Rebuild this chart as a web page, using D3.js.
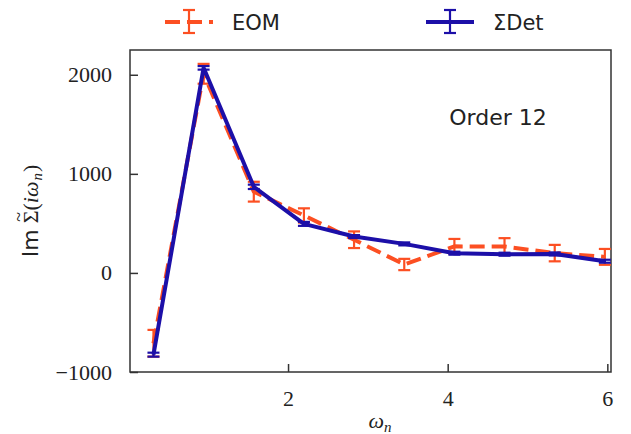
<!DOCTYPE html>
<html>
<head>
<meta charset="utf-8">
<script src="https://cdn.jsdelivr.net/npm/d3@7"></script>
<style>
  html, body { margin: 0; padding: 0; background: #fff; }
  svg { display: block; }
</style>
</head>
<body>
<svg id="chart" width="631" height="434"></svg>
<script>
// ---- data ----
const omega   = [0.314, 0.942, 1.571, 2.199, 2.827, 3.456, 4.084, 4.712, 5.341, 5.969];
const eom     = [-710, 2010, 820, 580, 335, 85, 268, 266, 200, 162];
const eomErr  = [135, 100, 100, 72, 84, 57, 75, 85, 83, 80];
const det     = [-825, 2070, 869, 495, 367, 293, 199, 189, 192, 118];
const detErr  = [20, 18, 22, 20, 15, 15, 15, 15, 15, 15];
const xTicks  = [2, 4, 6];
const yTicks  = [-1000, 0, 1000, 2000];
const seriesNames = ["EOM", "\u03A3Det"];
const annotation = "Order 12";

// ---- layout ----
const M = { left: 130, right: 611, top: 50, bottom: 372 };
const orange = "#fc4f22", blue = "#1c0fa8";
const serif = "'Liberation Serif', 'DejaVu Serif', serif";
const sans = "'DejaVu Sans', 'Liberation Sans', sans-serif";

const svg = d3.select("#chart");
const x = d3.scaleLinear().domain([0.02, 6.046]).range([M.left, M.right]);
const y = d3.scaleLinear().domain([-1000, 2250]).range([M.bottom, M.top]);

// axes
const xAxis = d3.axisBottom(x).tickValues(xTicks).tickSizeInner(-8).tickSizeOuter(0).tickPadding(18).tickFormat(d3.format("d"));
const yAxis = d3.axisLeft(y).tickValues(yTicks).tickSizeInner(-8).tickSizeOuter(0).tickPadding(18)
  .tickFormat(d => d < 0 ? "\u2212" + Math.abs(d) : String(d));

const gx = svg.append("g").attr("transform", `translate(0,${M.bottom})`).call(xAxis);
const gy = svg.append("g").attr("transform", `translate(${M.left},0)`).call(yAxis);
[gx, gy].forEach(g => {
  g.attr("font-family", null).attr("font-size", null);
  g.select(".domain").remove();
  g.selectAll(".tick line").attr("stroke", "#333").attr("stroke-width", 1.5);
  g.selectAll(".tick text").attr("fill", "#222").attr("font-family", serif).attr("font-size", 22);
});

// frame
svg.append("rect").attr("x", M.left).attr("y", M.top).attr("width", M.right - M.left).attr("height", M.bottom - M.top)
  .attr("fill", "none").attr("stroke", "#333").attr("stroke-width", 1.5);

function drawSeries(vals, errs, color, dash) {
  const pts = omega.map((w, i) => ({ w, v: vals[i], e: errs[i] }));
  const line = d3.line().x(d => x(d.w)).y(d => y(d.v));
  const g = svg.append("g");
  const eb = g.selectAll("g.eb").data(pts).enter().append("g");
  eb.append("line").attr("x1", d => x(d.w)).attr("x2", d => x(d.w))
    .attr("y1", d => y(d.v - d.e)).attr("y2", d => y(d.v + d.e))
    .attr("stroke", color).attr("stroke-width", 2.2);
  [-1, 1].forEach(s => {
    eb.append("line").attr("x1", d => x(d.w) - 6).attr("x2", d => x(d.w) + 6)
      .attr("y1", d => y(d.v + s * d.e)).attr("y2", d => y(d.v + s * d.e))
      .attr("stroke", color).attr("stroke-width", 2.2);
  });
  g.append("path").datum(pts).attr("d", line).attr("fill", "none")
    .attr("stroke", color).attr("stroke-width", 4).attr("stroke-linejoin", "round")
    .attr("stroke-dasharray", dash || null);
}
drawSeries(eom, eomErr, orange, "15,7");
drawSeries(det, detErr, blue, null);

// legend
function legendItem(x0, color, dash, label) {
  const g = svg.append("g");
  const cy = 22, len = 48, mid = x0 + 24;
  g.append("line").attr("x1", x0).attr("x2", x0 + len).attr("y1", cy).attr("y2", cy)
    .attr("stroke", color).attr("stroke-width", 4).attr("stroke-dasharray", dash || null);
  g.append("line").attr("x1", mid).attr("x2", mid).attr("y1", cy - 12).attr("y2", cy + 11)
    .attr("stroke", color).attr("stroke-width", 2.2);
  [cy - 12, cy + 11].forEach(yy => g.append("line").attr("x1", mid - 6).attr("x2", mid + 6)
    .attr("y1", yy).attr("y2", yy).attr("stroke", color).attr("stroke-width", 2.2));
  g.append("text").attr("x", x0 + 67).attr("y", cy + 8).text(label)
    .attr("fill", "#222").attr("font-family", sans).attr("font-size", 21);
}
legendItem(165, orange, "15,7", seriesNames[0]);
legendItem(426, blue, null, seriesNames[1]);

// annotation
svg.append("text").attr("x", 498).attr("y", 125).attr("text-anchor", "middle").text(annotation)
  .attr("fill", "#222").attr("font-family", sans).attr("font-size", 22);

// x label
const xl = svg.append("text").attr("x", 380).attr("y", 428).attr("text-anchor", "middle")
  .attr("fill", "#222").attr("font-family", serif).attr("font-size", 22);
xl.append("tspan").attr("font-style", "italic").text("\u03C9");
xl.append("tspan").attr("font-style", "italic").attr("font-size", 15).attr("dy", 4).text("n");

// y label: built piecewise in a rotated group so the tilde sits over Sigma
const yg = svg.append("g").attr("transform", `translate(38,${(M.top + M.bottom) / 2}) rotate(-90)`);
const parts = [
  { t: "Im", f: sans, s: 22, st: "normal", dy: 0, gap: 6 },
  { t: "\u03A3", f: serif, s: 22, st: "normal", dy: 0, gap: 0, tilde: true },
  { t: "(", f: serif, s: 22, st: "normal", dy: 0, gap: 0 },
  { t: "i\u03C9", f: serif, s: 22, st: "italic", dy: 0, gap: 1 },
  { t: "n", f: serif, s: 15, st: "italic", dy: 4, gap: 1 },
  { t: ")", f: serif, s: 22, st: "normal", dy: 0, gap: 0 }
];
let cx = 0;
const nodes = parts.map(p => {
  const t = yg.append("text").attr("x", cx).attr("y", p.dy).text(p.t)
    .attr("fill", "#222").attr("font-family", p.f).attr("font-size", p.s).attr("font-style", p.st);
  const w = t.node().getComputedTextLength();
  const n = { t, x: cx, w, p };
  cx += w + p.gap;
  return n;
});
const total = cx;
nodes.forEach(n => {
  n.t.attr("x", n.x - total / 2);
  if (n.p.tilde) {
    yg.append("text").attr("x", n.x - total / 2 + n.w / 2).attr("y", -13).attr("text-anchor", "middle")
      .text("~").attr("fill", "#222").attr("font-family", serif).attr("font-size", 18);
  }
});
</script>
</body>
</html>
